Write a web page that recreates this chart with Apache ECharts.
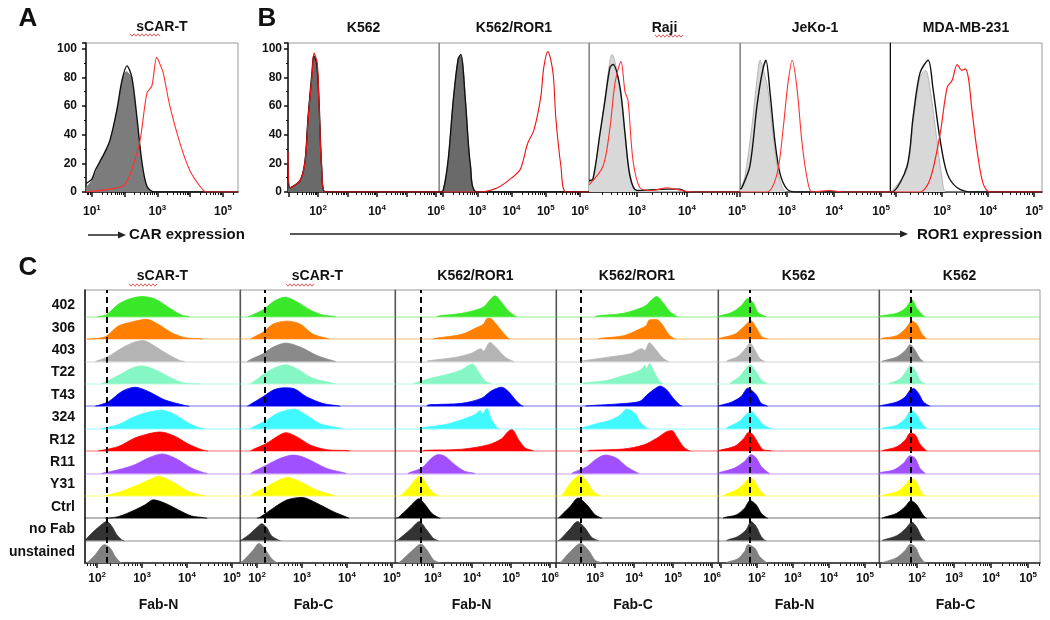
<!DOCTYPE html>
<html>
<head>
<meta charset="utf-8">
<script src="https://cdn.jsdelivr.net/npm/echarts@6/dist/echarts.min.js"></script>
<style>
html, body { margin: 0; padding: 0; background: #fff; }
#main { width: 1050px; height: 620px; }
</style>
</head>
<body>
<div id="main"></div>
<script>
// ---- data: x = log10(fluorescence), y = % of max (A, B) or row height (C) ----

// A: sCAR-T, CAR expression
var aGray = [[0.82,3],[1.0,8],[1.24,20],[1.55,35],[1.76,56],[1.92,76],[2.05,84],[2.2,80],[2.37,50],[2.52,18],[2.68,3],[2.9,0],[5.46,0]];
var aBlack = [[0.82,6],[1.0,9],[1.1,15],[1.24,21],[1.4,28],[1.55,36],[1.76,57],[1.92,78],[2.07,88],[2.22,80],[2.37,53],[2.52,22],[2.68,4],[2.9,0],[5.46,0]];
var aRed = [[0.82,0],[1.55,2],[2.0,5],[2.25,18],[2.47,36],[2.68,69],[2.83,74],[2.98,94],[3.1,88],[3.18,83],[3.38,60],[3.69,34],[3.99,15],[4.3,4],[4.5,0],[5.46,0]];

// B: ROR1 expression per cell line
var bTitles = ['K562', 'K562/ROR1', 'Raji', 'JeKo-1', 'MDA-MB-231'];
var bK562Fill = [[0.98,2],[1.05,3],[1.39,8],[1.56,22],[1.66,52],[1.8,83],[1.86,94],[1.97,88],[2.03,62],[2.12,18],[2.24,0],[6.1,0]];
var bK562Black = [[0.98,20],[1.05,3],[1.39,8],[1.56,22],[1.66,52],[1.8,85],[1.85,95],[1.95,90],[2.03,64],[2.12,18],[2.24,0],[6.1,0]];
var bK562Red = [[0.98,28],[1.05,3],[1.39,8],[1.56,21],[1.66,50],[1.8,83],[1.86,97],[1.97,90],[2.03,62],[2.12,16],[2.24,0],[6.1,0]];
var bRorFill = [[1.88,0],[2.0,1],[2.15,22],[2.3,64],[2.44,93],[2.53,95],[2.65,64],[2.8,18],[3.0,0],[6.26,0]];
var bRorBlack = [[1.88,0],[2.0,1],[2.15,23],[2.3,65],[2.44,93],[2.52,96],[2.65,64],[2.8,18],[3.0,0],[6.26,0]];
var bRorRed = [[1.88,0],[3.0,0],[3.59,3],[4.06,11],[4.26,16],[4.47,34],[4.65,43],[4.85,66],[4.94,87],[5.06,98],[5.21,83],[5.29,52],[5.44,18],[5.59,0],[6.26,0]];
var bRajiFill = [[2.04,6],[2.12,10],[2.26,40],[2.36,66],[2.46,92],[2.5,96],[2.6,84],[2.7,60],[2.8,25],[2.9,6],[3.0,1],[5.06,0]];
var bRajiBlack = [[2.04,8],[2.12,9],[2.26,41],[2.36,64],[2.46,87],[2.52,89],[2.66,73],[2.76,41],[2.86,11],[3.0,1],[3.6,2],[3.86,2],[4.0,0],[5.06,0]];
var bRajiRed = [[2.04,5],[2.32,18],[2.46,45],[2.56,76],[2.68,91],[2.76,70],[2.82,64],[2.92,22],[3.06,3],[3.3,1],[3.6,3],[3.9,1],[4.1,0],[5.06,0]];
var bJekoFill = [[2.0,2],[2.1,10],[2.25,45],[2.35,75],[2.43,92],[2.5,85],[2.6,70],[2.72,35],[2.85,8],[3.0,0],[5.19,0]];
var bJekoBlack = [[2.0,2],[2.04,3],[2.21,18],[2.36,60],[2.47,83],[2.55,92],[2.64,69],[2.74,36],[2.85,13],[3.0,2],[3.2,0],[5.19,0]];
var bJekoRed = [[2.0,0],[2.57,0],[2.79,13],[2.92,45],[3.02,76],[3.11,92],[3.21,73],[3.32,34],[3.43,9],[3.53,0],[3.9,1],[4.2,0],[5.19,0]];
var bMdaFill = [[1.87,0],[1.95,2],[2.24,16],[2.37,48],[2.52,80],[2.64,85],[2.75,70],[2.88,38],[3.0,10],[3.1,0],[5.17,0]];
var bMdaBlack = [[1.87,0],[1.91,0],[2.24,18],[2.37,52],[2.52,83],[2.7,92],[2.8,73],[2.96,36],[3.11,13],[3.33,3],[3.67,0],[5.17,0]];
var bMdaRed = [[1.87,0],[2.52,0],[2.74,9],[2.96,41],[3.11,73],[3.22,78],[3.33,89],[3.43,85],[3.5,86],[3.57,80],[3.65,57],[3.76,29],[3.89,6],[4.04,0],[5.17,0]];

// C: Fab binding, one list of 12 rows per column
var rowNames = ['402', '306', '403', 'T22', 'T43', '324', 'R12', 'R11', 'Y31', 'Ctrl', 'no Fab', 'unstained'];
var cTitles = ['sCAR-T', 'sCAR-T', 'K562/ROR1', 'K562/ROR1', 'K562', 'K562'];
var cAxisNames = ['Fab-N', 'Fab-C', 'Fab-N', 'Fab-C', 'Fab-N', 'Fab-C'];
var cGate = [2.22, 2.16, 2.69, 2.64, 1.80, 1.84];

var cScarN = [
  [[2.0,0],[2.2,0.08],[2.47,0.55],[2.7,0.78],[3.0,0.9],[3.3,0.78],[3.6,0.4],[3.88,0.07],[4.05,0]],
  [[1.78,0],[2.18,0.1],[2.47,0.58],[2.77,0.76],[3.1,0.88],[3.36,0.66],[3.66,0.28],[3.96,0.06],[4.29,0.02],[4.35,0]],
  [[1.96,0],[2.25,0.22],[2.55,0.6],[2.81,0.85],[3.03,0.93],[3.29,0.67],[3.59,0.3],[3.84,0.04],[3.95,0]],
  [[2.1,0],[2.47,0.37],[2.77,0.7],[2.99,0.8],[3.29,0.63],[3.66,0.25],[3.96,0.03],[4.3,0]],
  [[1.96,0],[2.25,0.2],[2.55,0.66],[2.84,0.85],[3.14,0.66],[3.51,0.28],[3.96,0.03],[4.05,0]],
  [[2.1,0],[2.47,0.18],[2.77,0.48],[3.07,0.7],[3.44,0.82],[3.73,0.63],[4.03,0.25],[4.29,0.03],[4.4,0]],
  [[2.03,0],[2.47,0.2],[2.84,0.58],[3.21,0.8],[3.4,0.85],[3.73,0.66],[4.03,0.31],[4.33,0.06],[4.47,0]],
  [[2.1,0],[2.47,0.16],[2.84,0.39],[3.14,0.69],[3.44,0.87],[3.73,0.69],[4.1,0.24],[4.36,0.04],[4.45,0]],
  [[2.18,0],[2.55,0.2],[2.92,0.5],[3.21,0.76],[3.36,0.87],[3.66,0.64],[4.03,0.2],[4.29,0.04],[4.4,0]],
  [[2.18,0],[2.47,0.07],[2.84,0.37],[3.07,0.6],[3.25,0.82],[3.51,0.67],[3.81,0.37],[4.1,0.1],[4.36,0.03],[4.45,0]],
  [[1.74,0],[1.77,0.1],[1.96,0.48],[2.14,0.78],[2.21,0.85],[2.33,0.63],[2.44,0.25],[2.55,0.03],[2.6,0]],
  [[1.76,0],[1.81,0.07],[1.96,0.37],[2.1,0.75],[2.16,0.82],[2.29,0.67],[2.4,0.3],[2.51,0.04],[2.56,0]]
];
var cScarC = [
  [[1.8,0],[2.13,0.3],[2.36,0.67],[2.62,0.87],[2.88,0.67],[3.18,0.3],[3.47,0.07],[3.69,0.02],[3.75,0]],
  [[1.85,0],[1.91,0.07],[2.13,0.3],[2.36,0.67],[2.67,0.8],[2.96,0.67],[3.24,0.22],[3.55,0.03],[3.6,0]],
  [[1.78,0],[1.84,0.07],[2.13,0.34],[2.36,0.64],[2.64,0.82],[2.96,0.64],[3.33,0.27],[3.69,0.03],[3.75,0]],
  [[1.85,0],[1.91,0.07],[2.21,0.52],[2.44,0.75],[2.64,0.85],[2.88,0.67],[3.24,0.25],[3.69,0.03],[3.75,0]],
  [[1.78,0],[1.84,0.07],[2.13,0.42],[2.36,0.72],[2.58,0.82],[2.81,0.79],[3.1,0.42],[3.47,0.12],[3.8,0.02],[3.85,0]],
  [[1.85,0],[1.91,0.07],[2.21,0.37],[2.44,0.67],[2.67,0.82],[2.84,0.87],[3.1,0.6],[3.4,0.22],[3.84,0.03],[3.9,0]],
  [[1.85,0],[1.91,0.07],[2.21,0.34],[2.44,0.64],[2.64,0.82],[2.88,0.64],[3.18,0.27],[3.55,0.06],[4.02,0.02],[4.06,0]],
  [[1.85,0],[1.91,0.07],[2.21,0.37],[2.51,0.67],[2.81,0.82],[3.1,0.67],[3.55,0.22],[3.91,0.04],[3.98,0]],
  [[1.85,0],[1.91,0.1],[2.21,0.4],[2.51,0.73],[2.67,0.82],[2.96,0.63],[3.33,0.25],[3.69,0.03],[3.75,0]],
  [[2.0,0],[2.07,0.05],[2.36,0.45],[2.67,0.82],[3.0,0.93],[3.33,0.67],[3.69,0.3],[3.99,0.05],[4.05,0]],
  [[1.62,0],[1.67,0.05],[1.84,0.3],[2.02,0.63],[2.1,0.75],[2.21,0.6],[2.32,0.22],[2.47,0.03],[2.52,0]],
  [[1.62,0],[1.7,0.12],[1.91,0.57],[2.04,0.87],[2.17,0.64],[2.32,0.2],[2.43,0.03],[2.48,0]]
];
var cRorN = [
  [[3.1,0],[3.14,0.03],[3.74,0.15],[4.16,0.33],[4.33,0.48],[4.46,0.75],[4.59,0.93],[4.76,0.63],[4.93,0.25],[5.1,0.03],[5.15,0]],
  [[3.0,0],[3.05,0.03],[3.74,0.21],[4.12,0.51],[4.29,0.66],[4.38,0.91],[4.46,0.93],[4.59,0.73],[4.76,0.36],[4.93,0.03],[4.98,0]],
  [[2.84,0],[2.88,0.03],[3.56,0.18],[3.99,0.37],[4.23,0.57],[4.29,0.45],[4.46,0.85],[4.63,0.6],[4.85,0.19],[5.02,0.03],[5.07,0]],
  [[2.5,0],[2.54,0.03],[2.88,0.22],[3.39,0.43],[3.74,0.63],[3.91,0.82],[4.02,0.88],[4.16,0.55],[4.33,0.13],[4.46,0.03],[4.5,0]],
  [[2.84,0],[2.88,0.06],[3.74,0.13],[4.25,0.36],[4.5,0.69],[4.76,0.85],[4.93,0.66],[5.15,0.21],[5.27,0.03],[5.32,0]],
  [[2.66,0],[2.71,0.03],[3.31,0.18],[3.74,0.4],[4.08,0.63],[4.21,0.81],[4.26,0.66],[4.38,0.9],[4.5,0.4],[4.63,0.06],[4.68,0]],
  [[2.75,0],[2.79,0.03],[3.74,0.08],[4.42,0.28],[4.76,0.55],[4.93,0.88],[5.02,0.96],[5.19,0.51],[5.36,0.13],[5.53,0.03],[5.58,0]],
  [[2.36,0],[2.41,0.04],[2.71,0.24],[2.97,0.69],[3.14,0.84],[3.31,0.76],[3.56,0.39],[3.82,0.09],[4.03,0.02],[4.08,0]],
  [[2.15,0],[2.2,0.04],[2.41,0.42],[2.58,0.79],[2.67,0.87],[2.79,0.64],[2.97,0.19],[3.09,0.04],[3.14,0]],
  [[2.06,0],[2.11,0.03],[2.37,0.45],[2.54,0.75],[2.64,0.87],[2.79,0.63],[2.97,0.22],[3.14,0.03],[3.19,0]],
  [[2.06,0],[2.11,0.04],[2.41,0.48],[2.58,0.78],[2.65,0.85],[2.84,0.48],[3.01,0.1],[3.09,0.03],[3.14,0]],
  [[2.1,0],[2.15,0.04],[2.45,0.52],[2.62,0.79],[2.69,0.85],[2.84,0.6],[3.01,0.15],[3.14,0.03],[3.19,0]]
];
var cRorC = [
  [[3.0,0],[3.04,0.03],[3.73,0.15],[4.15,0.37],[4.32,0.52],[4.45,0.75],[4.58,0.9],[4.75,0.6],[4.92,0.22],[5.09,0.02],[5.13,0]],
  [[3.08,0],[3.13,0.03],[3.73,0.15],[4.15,0.45],[4.31,0.6],[4.39,0.85],[4.58,0.87],[4.71,0.67],[4.88,0.22],[5.01,0.03],[5.06,0]],
  [[2.65,0],[2.7,0.03],[3.38,0.2],[3.9,0.34],[4.2,0.57],[4.28,0.49],[4.39,0.84],[4.54,0.57],[4.71,0.2],[4.84,0.03],[4.89,0]],
  [[2.65,0],[2.7,0.03],[3.3,0.15],[3.73,0.37],[4.15,0.6],[4.28,0.82],[4.32,0.67],[4.39,0.9],[4.54,0.45],[4.67,0.07],[4.75,0]],
  [[2.75,0],[2.79,0.02],[3.73,0.12],[4.15,0.22],[4.32,0.49],[4.54,0.79],[4.67,0.9],[4.84,0.72],[5.01,0.34],[5.18,0.04],[5.23,0]],
  [[2.6,0],[2.66,0.03],[3.04,0.22],[3.38,0.37],[3.64,0.6],[3.81,0.87],[4.03,0.67],[4.15,0.3],[4.32,0.03],[4.37,0]],
  [[2.82,0],[2.87,0.03],[3.73,0.09],[4.24,0.27],[4.58,0.57],[4.84,0.87],[4.97,0.91],[5.09,0.64],[5.26,0.19],[5.39,0.03],[5.44,0]],
  [[2.4,0],[2.44,0.04],[2.79,0.3],[3.0,0.6],[3.26,0.82],[3.56,0.67],[3.81,0.3],[4.07,0.04],[4.12,0]],
  [[2.14,0],[2.19,0.1],[2.36,0.55],[2.53,0.85],[2.62,0.9],[2.79,0.63],[2.96,0.18],[3.09,0.03],[3.14,0]],
  [[2.05,0],[2.1,0.07],[2.36,0.52],[2.57,0.9],[2.79,0.6],[3.0,0.15],[3.13,0.03],[3.18,0]],
  [[2.05,0],[2.1,0.04],[2.36,0.52],[2.55,0.85],[2.74,0.57],[2.91,0.15],[3.04,0.03],[3.09,0]],
  [[2.1,0],[2.15,0.09],[2.4,0.57],[2.63,0.87],[2.83,0.57],[3.0,0.12],[3.13,0.03],[3.18,0]]
];
var cK562N = [
  [[0.93,0],[0.96,0.03],[1.29,0.18],[1.56,0.48],[1.75,0.81],[1.89,0.63],[2.03,0.18],[2.21,0.03],[2.26,0]],
  [[0.93,0],[0.96,0.03],[1.38,0.21],[1.61,0.51],[1.77,0.76],[1.84,0.81],[1.98,0.51],[2.12,0.13],[2.26,0.02],[2.3,0]],
  [[1.15,0],[1.19,0.04],[1.47,0.22],[1.7,0.6],[1.81,0.82],[1.94,0.52],[2.07,0.15],[2.17,0.03],[2.22,0]],
  [[1.25,0],[1.29,0.06],[1.52,0.33],[1.7,0.7],[1.8,0.85],[1.94,0.63],[2.12,0.18],[2.26,0.03],[2.3,0]],
  [[0.93,0],[0.96,0.03],[1.29,0.18],[1.56,0.43],[1.75,0.81],[1.84,0.73],[1.98,0.51],[2.12,0.13],[2.26,0.03],[2.3,0]],
  [[1.15,0],[1.19,0.06],[1.52,0.33],[1.7,0.63],[1.84,0.78],[1.98,0.55],[2.17,0.18],[2.35,0.03],[2.4,0]],
  [[0.93,0],[0.96,0.03],[1.38,0.21],[1.61,0.51],[1.78,0.84],[1.89,0.73],[2.03,0.36],[2.17,0.06],[2.35,0.02],[2.4,0]],
  [[0.93,0],[0.96,0.04],[1.38,0.24],[1.66,0.54],[1.84,0.84],[1.98,0.69],[2.12,0.31],[2.31,0.04],[2.35,0]],
  [[1.06,0],[1.1,0.04],[1.43,0.27],[1.66,0.57],[1.81,0.84],[1.94,0.64],[2.07,0.27],[2.21,0.04],[2.26,0]],
  [[1.06,0],[1.1,0.03],[1.43,0.15],[1.66,0.45],[1.81,0.79],[1.98,0.6],[2.12,0.22],[2.26,0.03],[2.3,0]],
  [[1.15,0],[1.19,0.03],[1.47,0.18],[1.7,0.48],[1.84,0.85],[1.98,0.63],[2.12,0.18],[2.21,0.03],[2.26,0]],
  [[1.15,0],[1.19,0.04],[1.47,0.19],[1.66,0.52],[1.75,0.82],[1.94,0.67],[2.07,0.3],[2.26,0.03],[2.3,0]]
];
var cK562C = [
  [[0.98,0],[1.0,0.03],[1.45,0.15],[1.68,0.37],[1.81,0.67],[1.86,0.75],[1.99,0.37],[2.17,0.03],[2.21,0]],
  [[1.02,0],[1.05,0.03],[1.45,0.15],[1.68,0.45],[1.86,0.8],[1.99,0.67],[2.13,0.22],[2.26,0]],
  [[1.05,0],[1.09,0.03],[1.45,0.2],[1.68,0.49],[1.81,0.75],[1.95,0.49],[2.08,0.12],[2.17,0]],
  [[1.23,0],[1.27,0.03],[1.54,0.22],[1.72,0.6],[1.81,0.82],[1.95,0.6],[2.08,0.15],[2.22,0]],
  [[0.98,0],[1.0,0.02],[1.45,0.19],[1.68,0.42],[1.81,0.72],[1.9,0.79],[2.04,0.57],[2.17,0.19],[2.35,0]],
  [[1.05,0],[1.09,0.03],[1.45,0.15],[1.68,0.45],[1.84,0.82],[1.99,0.6],[2.13,0.22],[2.26,0]],
  [[1.05,0],[1.09,0.03],[1.45,0.19],[1.68,0.49],[1.81,0.79],[1.95,0.72],[2.08,0.3],[2.26,0]],
  [[0.98,0],[1.0,0.04],[1.36,0.15],[1.63,0.45],[1.81,0.79],[1.95,0.67],[2.08,0.22],[2.22,0]],
  [[1.05,0],[1.09,0.03],[1.45,0.18],[1.68,0.48],[1.84,0.78],[1.97,0.63],[2.13,0.1],[2.22,0]],
  [[1.05,0],[1.09,0.03],[1.45,0.22],[1.68,0.52],[1.83,0.78],[1.99,0.6],[2.13,0.22],[2.22,0.03],[2.26,0]],
  [[1.05,0],[1.09,0.03],[1.45,0.22],[1.68,0.52],[1.86,0.82],[1.99,0.6],[2.13,0.15],[2.22,0]],
  [[1.05,0],[1.09,0.03],[1.45,0.24],[1.68,0.57],[1.81,0.84],[1.95,0.72],[2.08,0.27],[2.22,0]]
];
var cColumns = [cScarN, cScarC, cRorN, cRorC, cK562N, cK562C];

// ---- styling / layout ----
var FONT = '"Liberation Sans", Arial, sans-serif';
var rowColors = ['#3ae82a', '#ff8000', '#b4b4b4', '#84f7c4', '#0000f0', '#3ff9ff', '#ff0000', '#a050ff', '#ffff00', '#000000', '#333333', '#808080'];
var gray403Dark = '#8a8a8a';

var abTop = 43, abBottom = 192;
var abBoxes = [[86, 238], [288, 439], [439, 589], [589, 740], [740, 890], [890, 1042]];
var abRanges = [[0.82, 5.46], [0.98, 6.1], [1.88, 6.26], [2.04, 5.06], [2.0, 5.19], [1.87, 5.17]];
var abLabels = [[1, 3, 5], [2, 4, 6], [3, 4, 5, 6], [3, 4, 5], [3, 4, 5], [3, 4, 5]];

var cTop = 290, cBottom = 563;
var cBoxes = [[85, 240], [240, 395], [395, 556], [556, 718], [718, 879], [879, 1040]];
var cRanges = [[1.73, 5.18], [1.62, 5.07], [2.03, 6.15], [2.0, 6.15], [0.92, 5.39], [0.97, 5.32]];
var cLabels = [[2, 3, 4, 5], [2, 3, 4, 5], [3, 4, 5, 6], [3, 4, 5, 6], [2, 3, 4, 5], [2, 3, 4, 5]];
var cYMax = 12.19;

var grids = [], xAxes = [], yAxes = [], series = [], graphics = [];

function decades(r) {
  var a = [];
  for (var n = Math.ceil(r[0]); n <= Math.floor(r[1]); n++) a.push(n);
  return a;
}
function minors(r) {
  var a = [];
  for (var n = Math.floor(r[0]); n <= Math.ceil(r[1]); n++) {
    for (var k = 2; k <= 9; k++) {
      var v = n + Math.log10(k);
      if (v >= r[0] && v <= r[1]) a.push(v);
    }
  }
  return a;
}
var supRich = {
  b: { fontFamily: FONT, fontWeight: 'bold', fontSize: 12, color: '#111' },
  s: { fontFamily: FONT, fontWeight: 'bold', fontSize: 8, color: '#111', padding: [0, 0, 7, 0] }
};
function supLabel(v) { return '{b|10}{s|' + Math.round(v) + '}'; }

function addGrid(box, top, bottom, range, labels, labelMargin) {
  var g = grids.length;
  grids.push({ left: box[0], top: top, width: box[1] - box[0], height: bottom - top,
    show: true, borderColor: '#9a9a9a', borderWidth: 1, backgroundColor: 'transparent' });
  xAxes.push({ type: 'value', gridIndex: g, position: 'bottom', min: range[0], max: range[1],
    axisLine: { show: true, lineStyle: { color: '#111', width: 1.5 } },
    axisTick: { show: true, customValues: decades(range), length: 5, lineStyle: { color: '#111', width: 1.5 } },
    axisLabel: { customValues: labels, formatter: supLabel, rich: supRich, margin: labelMargin },
    splitLine: { show: false } });
  xAxes.push({ type: 'value', gridIndex: g, position: 'bottom', min: range[0], max: range[1],
    axisLine: { show: false },
    axisTick: { show: true, customValues: minors(range), length: 3, lineStyle: { color: '#111', width: 1 } },
    axisLabel: { show: false }, splitLine: { show: false } });
  return g;
}

function histLine(g, data, color, width) {
  series.push({ type: 'line', xAxisIndex: 2 * g, yAxisIndex: g, data: data, showSymbol: false,
    smooth: 0.3, lineStyle: { color: color, width: width }, silent: true });
}
function histFill(g, data, fill, edge) {
  series.push({ type: 'line', xAxisIndex: 2 * g, yAxisIndex: g, data: data, showSymbol: false,
    smooth: 0.3, lineStyle: { color: edge, width: 1 }, areaStyle: { color: fill, opacity: 1 }, silent: true });
}

// ---- panels A and B ----
abBoxes.forEach(function (box, i) {
  var g = addGrid(box, abTop, abBottom, abRanges[i], abLabels[i], 12);
  var showLabels = i <= 1;
  yAxes.push({ type: 'value', gridIndex: g, min: 0, max: 104, interval: 20,
    axisLine: { show: true, lineStyle: { color: i === 5 ? '#111' : (showLabels ? '#111' : '#8a8a8a'), width: showLabels ? 1.5 : 1 } },
    axisTick: { show: showLabels, length: 4, lineStyle: { color: '#111', width: 1.5 } },
    minorTick: { show: showLabels, splitNumber: 2, length: 2, lineStyle: { color: '#111' } },
    axisLabel: { show: showLabels, showMaxLabel: false, margin: i === 0 ? 9 : 6,
      fontFamily: FONT, fontWeight: 'bold', fontSize: 12, color: '#111' },
    splitLine: { show: false } });
});

histFill(0, aGray, '#7c7c7c', '#7c7c7c');
histLine(0, aBlack, '#111', 1.4);
histLine(0, aRed, '#ff3030', 1.1);

histFill(1, bK562Fill, '#6a6a6a', '#6a6a6a');
histLine(1, bK562Black, '#111', 1.4);
histLine(1, bK562Red, '#ee1111', 1.2);
histFill(2, bRorFill, '#6a6a6a', '#6a6a6a');
histLine(2, bRorBlack, '#111', 1.4);
histLine(2, bRorRed, '#ee1111', 1.1);
histFill(3, bRajiFill, '#d8d8d8', '#b4b4b4');
histLine(3, bRajiBlack, '#111', 1.4);
histLine(3, bRajiRed, '#ff3030', 1.1);
histFill(4, bJekoFill, '#d8d8d8', '#b4b4b4');
histLine(4, bJekoBlack, '#111', 1.4);
histLine(4, bJekoRed, '#ff3030', 1.1);
histFill(5, bMdaFill, '#d8d8d8', '#b4b4b4');
histLine(5, bMdaBlack, '#111', 1.4);
histLine(5, bMdaRed, '#ff1a1a', 1.2);

// ---- panel C ----
cBoxes.forEach(function (box, c) {
  var g = addGrid(box, cTop, cBottom, cRanges[c], cLabels[c], 8);
  yAxes.push({ type: 'value', gridIndex: g, min: 0, max: cYMax,
    axisLine: { show: true, lineStyle: { color: c === 0 ? '#111' : '#555', width: c === 0 ? 1.5 : 1.2 } },
    axisTick: { show: false },
    axisLabel: { show: c === 0, customValues: rowNames.map(function (n, i) { return 11.5 - i; }),
      formatter: function (v) { return rowNames[Math.round(11.5 - v)]; },
      margin: 10, fontFamily: FONT, fontWeight: 'bold', fontSize: 14, color: '#111' },
    splitLine: { show: false } });

  cColumns[c].forEach(function (rowData, i) {
    var base = 11 - i;
    var color = (i === 2 && (c === 1 || c === 5)) ? gray403Dark : rowColors[i];
    var marks = [{ yAxis: base, lineStyle: { color: color, opacity: 0.28, width: 2, type: 'solid' } }];
    if (i === 0) {
      marks.push({ xAxis: cGate[c], lineStyle: { color: '#000', opacity: 1, width: 2, type: [6, 4] } });
    }
    series.push({ type: 'line', xAxisIndex: 2 * g, yAxisIndex: g, showSymbol: false, silent: true,
      smooth: 0.3,
      data: rowData.map(function (p) { return [p[0], base + p[1]]; }),
      lineStyle: { color: color, width: 0.8 },
      areaStyle: { color: color, opacity: 1, origin: base },
      markLine: { silent: true, symbol: 'none', label: { show: false }, animation: false, data: marks } });
  });
});

// ---- text, arrows ----
function txt(s, x, y, size, align) {
  graphics.push({ type: 'text', x: x, y: y, silent: true,
    style: { text: s, fill: '#111', font: 'bold ' + size + 'px ' + FONT,
      textAlign: align || 'center', textVerticalAlign: 'middle' } });
}
function squiggle(x0, x1, y) {
  var pts = [];
  for (var x = x0, k = 0; x <= x1; x += 2, k++) pts.push([x, y + (k % 2 ? 1.2 : -1.2)]);
  graphics.push({ type: 'polyline', silent: true, shape: { points: pts },
    style: { stroke: '#e03030', lineWidth: 0.8, fill: null } });
}
function arrow(x0, x1, y) {
  graphics.push({ type: 'line', silent: true, shape: { x1: x0, y1: y, x2: x1 - 7, y2: y },
    style: { stroke: '#222', lineWidth: 1.5 } });
  graphics.push({ type: 'polygon', silent: true, shape: { points: [[x1 - 8, y - 3.5], [x1, y], [x1 - 8, y + 3.5]] },
    style: { fill: '#222' } });
}

txt('A', 28, 19, 26);
txt('B', 267, 19, 26);
txt('C', 28, 268, 26);
txt('sCAR-T', 162, 27, 14);
squiggle(130, 160, 35);
var bCenters = abBoxes.slice(1).map(function (b) { return (b[0] + b[1]) / 2; });
bTitles.forEach(function (t, i) { txt(t, bCenters[i], 28, 14); });
squiggle(655, 683, 36);
cTitles.forEach(function (t, i) { txt(t, (cBoxes[i][0] + cBoxes[i][1]) / 2, 276, 14); });
squiggle(129, 158, 285);
squiggle(286, 315, 285);
cAxisNames.forEach(function (t, i) { txt(t, (cBoxes[i][0] + cBoxes[i][1]) / 2 - 4, 605, 14); });

arrow(88, 126, 235);
txt('CAR expression', 129, 235, 15, 'left');
arrow(290, 908, 234);
txt('ROR1 expression', 917, 235, 15, 'left');

var chart = echarts.init(document.getElementById('main'));
chart.setOption({
  animation: false,
  backgroundColor: '#fff',
  grid: grids,
  xAxis: xAxes,
  yAxis: yAxes,
  series: series,
  graphic: graphics
});

window.addEventListener('resize', function () {
  chart.resize();
});
</script>
</body>
</html>
